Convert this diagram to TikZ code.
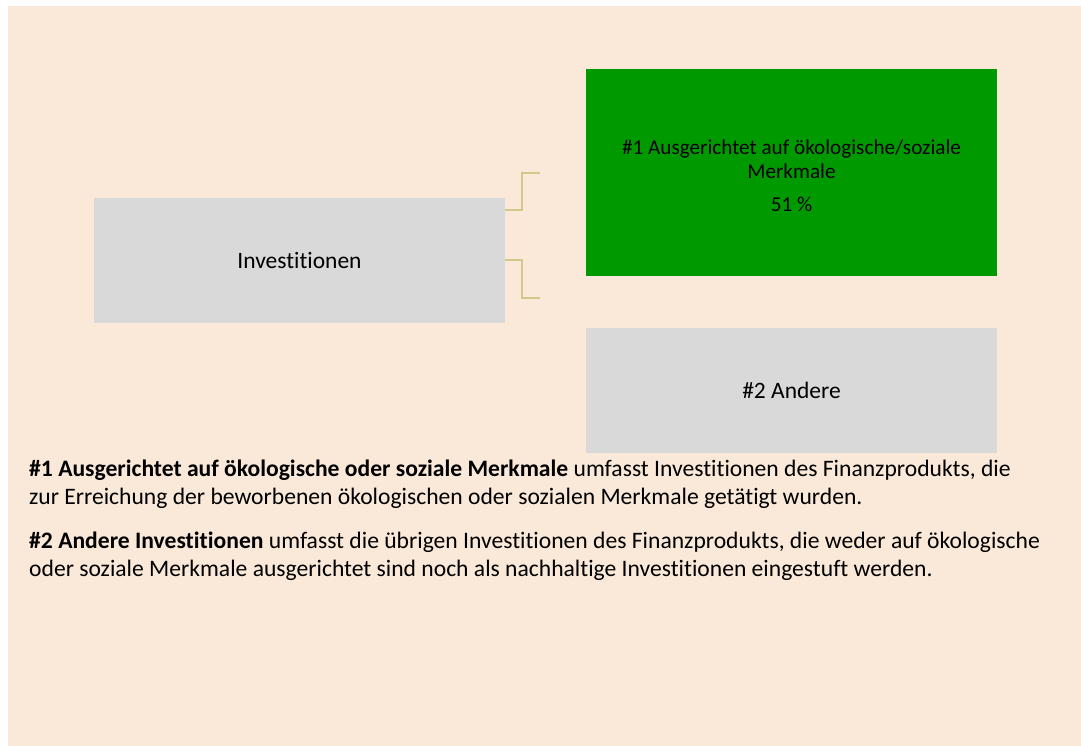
\documentclass[tikz,border=0pt]{standalone}
\usepackage{fontspec}
\setmainfont{Carlito}[Ligatures={TeX,NoCommon}]
\definecolor{bg}{HTML}{FAE9D8}
\definecolor{boxgray}{HTML}{D9D9D9}
\definecolor{boxgreen}{HTML}{009900}
\definecolor{conn}{HTML}{D5C68A}
\tikzset{
  box/.style={draw=none, inner sep=0pt, minimum width=411pt, text=black},
  conline/.style={draw=conn, line width=2pt},
  para/.style={anchor=north west, align=left, inner sep=0pt, font=\fontsize{23.6}{28.5}\selectfont}
}
\newcommand{\topstrut}{\vrule height 20pt depth 0pt width 0pt}
\begin{document}
\begin{tikzpicture}[x=1pt,y=-1pt]
\useasboundingbox (0,0) rectangle (1081,746);
\fill[white] (0,0) rectangle (1081,746);
\fill[bg] (8,6) rectangle (1081,746);
\node[box, fill=boxgray, minimum height=125pt, font=\fontsize{23.5}{28}\selectfont] (inv) at (299.5,260.5) {Investitionen};
\node[box, fill=boxgreen, minimum height=207pt] (green) at (791.5,172.5) {};
\node[align=center, inner sep=0pt, font=\fontsize{21.2}{24}\selectfont] (greentext) at (791.5,176) {\#1 Ausgerichtet auf ökologische/soziale\\Merkmale\\[9pt]51 \%};
\node[box, fill=boxgray, minimum height=125pt, font=\fontsize{23.5}{28}\selectfont] (other) at (791.5,390.5) {\#2 Andere};
\coordinate (c1) at (540,173);
\coordinate (c2) at (540,298);
\draw[conline] (inv.east |- 0,210) -| (522,173) -- (c1);
\draw[conline] (inv.east |- 0,260) -| (522,298) -- (c2);
\node[para] (p1) at (29,456) {\topstrut\textbf{\#1 Ausgerichtet auf ökologische oder soziale Merkmale} umfasst Investitionen des Finanzprodukts, die\\zur Erreichung der beworbenen ökologischen oder sozialen Merkmale getätigt wurden.};
\node[para] (p2) at (29,528) {\topstrut\textbf{\#2 Andere Investitionen} umfasst die übrigen Investitionen des Finanzprodukts, die weder auf ökologische\\oder soziale Merkmale ausgerichtet sind noch als nachhaltige Investitionen eingestuft werden.};
\end{tikzpicture}
\end{document}
